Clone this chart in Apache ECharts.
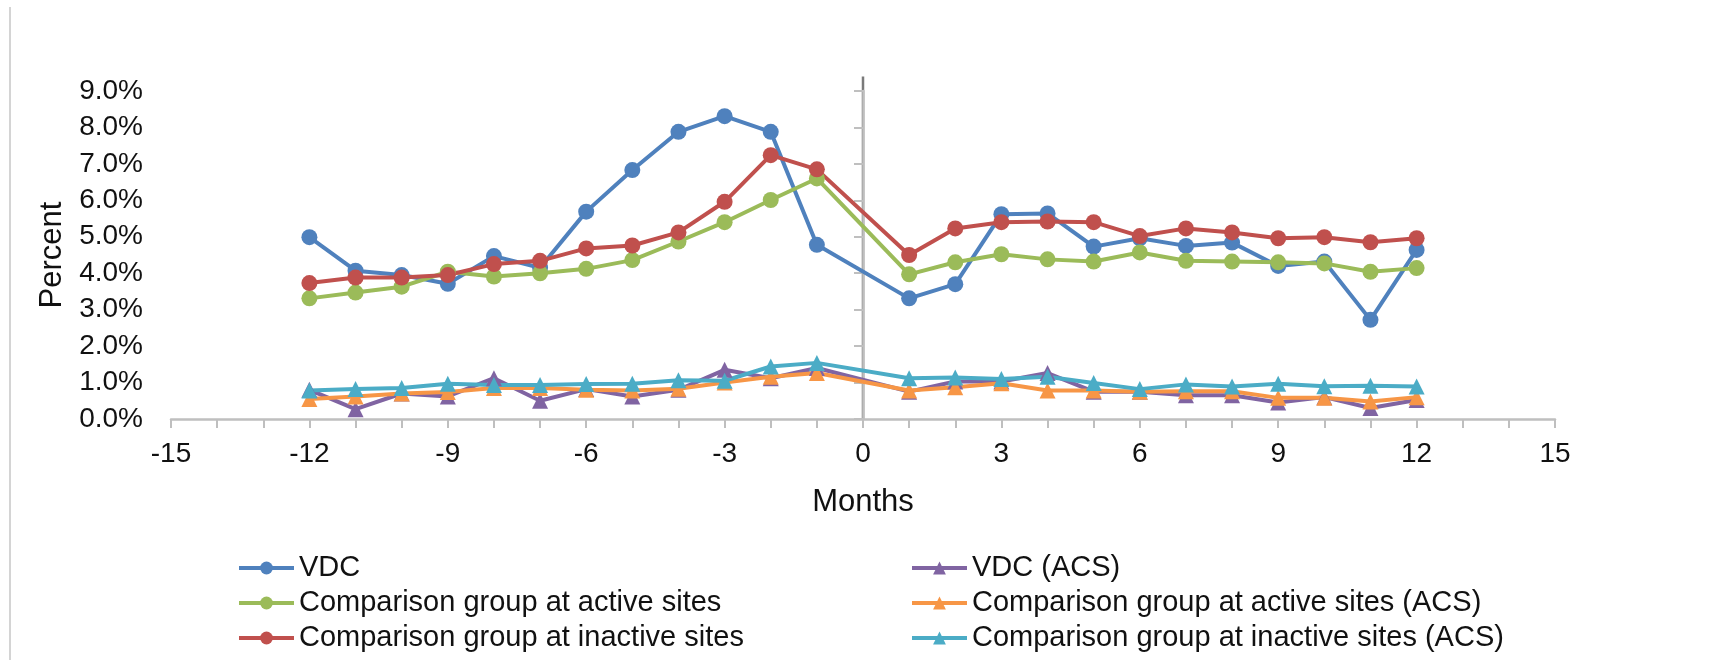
<!DOCTYPE html>
<html>
<head>
<meta charset="utf-8">
<title>Percent by month relative to VDC</title>
<script src="https://cdn.jsdelivr.net/npm/echarts@6/dist/echarts.min.js"></script>
<style>
  html, body { margin: 0; padding: 0; background: #ffffff; }
  #chart { width: 1726px; height: 660px; }
</style>
</head>
<body>
<div id="chart"></div>
<script>
// Months relative to the event (month 0 has no observation)
const months = [-12, -11, -10, -9, -8, -7, -6, -5, -4, -3, -2, -1, 1, 2, 3, 4, 5, 6, 7, 8, 9, 10, 11, 12];

// Percent values per series
const vdc          = [4.99, 4.07, 3.95, 3.71, 4.47, 4.15, 5.69, 6.83, 7.88, 8.31, 7.88, 4.78, 3.31, 3.70, 5.62, 5.64, 4.73, 4.96, 4.75, 4.84, 4.20, 4.32, 2.72, 4.64];
const vdcAcs       = [0.80, 0.27, 0.70, 0.62, 1.12, 0.50, 0.82, 0.62, 0.80, 1.35, 1.12, 1.40, 0.75, 1.03, 1.03, 1.26, 0.75, 0.75, 0.65, 0.65, 0.45, 0.60, 0.30, 0.52];
const activeComp   = [3.31, 3.47, 3.63, 4.04, 3.91, 4.00, 4.12, 4.36, 4.87, 5.40, 6.01, 6.60, 3.97, 4.30, 4.52, 4.38, 4.32, 4.57, 4.34, 4.32, 4.30, 4.27, 4.04, 4.14];
const activeAcs    = [0.55, 0.62, 0.70, 0.74, 0.85, 0.85, 0.80, 0.78, 0.83, 1.00, 1.16, 1.26, 0.78, 0.87, 0.98, 0.78, 0.78, 0.75, 0.76, 0.76, 0.58, 0.58, 0.48, 0.60];
const inactiveComp = [3.73, 3.88, 3.88, 3.95, 4.25, 4.34, 4.68, 4.76, 5.12, 5.96, 7.24, 6.85, 4.50, 5.23, 5.40, 5.42, 5.40, 5.02, 5.23, 5.12, 4.96, 4.99, 4.85, 4.96];
const inactiveAcs  = [0.78, 0.82, 0.85, 0.97, 0.93, 0.93, 0.96, 0.97, 1.06, 1.05, 1.44, 1.54, 1.12, 1.14, 1.10, 1.16, 0.99, 0.82, 0.95, 0.89, 0.97, 0.90, 0.91, 0.89];

// Series names
const names = {
  vdc: 'VDC',
  vdcAcs: 'VDC (ACS)',
  active: 'Comparison group at active sites',
  activeAcs: 'Comparison group at active sites (ACS)',
  inactive: 'Comparison group at inactive sites',
  inactiveAcs: 'Comparison group at inactive sites (ACS)'
};

// Axis ranges
const xMin = -15, xMax = 15, xLabelStep = 3;
const yMin = 0, yMax = 9, yStep = 1;

// Vertical reference line at month 0, running slightly above the top tick
const refMonth = 0;
const refTop = 9.4;

const FONT = '"Liberation Sans", Arial, Helvetica, sans-serif';
const TEXT = '#111111';
const AXIS = '#bfbfbf';

function pairs(vals) {
  return months.map((m, i) => [m, vals[i]]);
}

function lineSeries(name, vals, color, symbol) {
  return {
    name: name,
    type: 'line',
    data: pairs(vals),
    symbol: symbol,
    symbolSize: 16,
    showAllSymbol: true,
    lineStyle: { color: color, width: 4 },
    itemStyle: { color: color },
    emphasis: { disabled: true },
    clip: false
  };
}

const chart = echarts.init(document.getElementById('chart'), null, { renderer: 'canvas' });

const legendBase = {
  orient: 'vertical',
  top: 553,
  padding: 0,
  itemGap: 5,
  itemWidth: 55,
  itemHeight: 16,
  selectedMode: false,
  lineStyle: { width: 4 },
  textStyle: { fontFamily: FONT, fontSize: 29, color: TEXT, lineHeight: 30 }
};

const option = {
  animation: false,
  backgroundColor: '#ffffff',
  grid: { left: 171, right: 171, top: 91, bottom: 241, containLabel: false },
  legend: [
    Object.assign({}, legendBase, { left: 237, data: [names.vdc, names.active, names.inactive] }),
    Object.assign({}, legendBase, { left: 910, data: [names.vdcAcs, names.activeAcs, names.inactiveAcs] })
  ],
  xAxis: {
    type: 'value',
    min: xMin,
    max: xMax,
    interval: 1,
    name: 'Months',
    nameLocation: 'middle',
    nameGap: 68,
    nameTextStyle: { fontFamily: FONT, fontSize: 31, color: TEXT },
    axisLine: { show: true, onZero: false, lineStyle: { color: AXIS, width: 2.5 } },
    axisTick: { show: true, length: 9, lineStyle: { color: AXIS, width: 2 } },
    axisLabel: {
      margin: 21,
      fontFamily: FONT,
      fontSize: 28,
      color: TEXT,
      formatter: v => (v % xLabelStep === 0 ? String(v) : '')
    },
    splitLine: { show: false }
  },
  yAxis: {
    type: 'value',
    min: yMin,
    max: yMax,
    interval: yStep,
    name: 'Percent',
    nameLocation: 'middle',
    nameGap: 97,
    nameTextStyle: { fontFamily: FONT, fontSize: 31, color: TEXT },
    axisLine: { show: true, lineStyle: { color: AXIS, width: 2.5 } },
    axisTick: { show: true, length: 9, lineStyle: { color: AXIS, width: 2 } },
    axisLabel: {
      margin: 28,
      fontFamily: FONT,
      fontSize: 28,
      color: TEXT,
      formatter: v => v.toFixed(1) + '%'
    },
    splitLine: { show: false }
  },
  series: [
    lineSeries(names.vdc, vdc, '#4F81BD', 'circle'),
    lineSeries(names.vdcAcs, vdcAcs, '#8064A2', 'triangle'),
    lineSeries(names.active, activeComp, '#9BBB59', 'circle'),
    lineSeries(names.activeAcs, activeAcs, '#F79646', 'triangle'),
    lineSeries(names.inactive, inactiveComp, '#C0504D', 'circle'),
    lineSeries(names.inactiveAcs, inactiveAcs, '#4BACC6', 'triangle')
  ]
};

chart.setOption(option);

// Month-0 divider placed through the axes' own scales
const p0 = chart.convertToPixel({ xAxisIndex: 0, yAxisIndex: 0 }, [refMonth, yMin]);
const p1 = chart.convertToPixel({ xAxisIndex: 0, yAxisIndex: 0 }, [refMonth, refTop]);

chart.setOption({
  graphic: [
    {
      type: 'line',
      silent: true,
      z: 0,
      shape: { x1: p0[0], y1: p0[1] + 1, x2: p1[0], y2: p1[1] },
      style: { stroke: '#7a7a7a', lineWidth: 2.5 }
    },
    {
      // light frame edge on the left of the chart area
      type: 'line',
      silent: true,
      shape: { x1: 10, y1: 7, x2: 10, y2: 660 },
      style: { stroke: '#d4d4d4', lineWidth: 2 }
    }
  ]
});
</script>
</body>
</html>
